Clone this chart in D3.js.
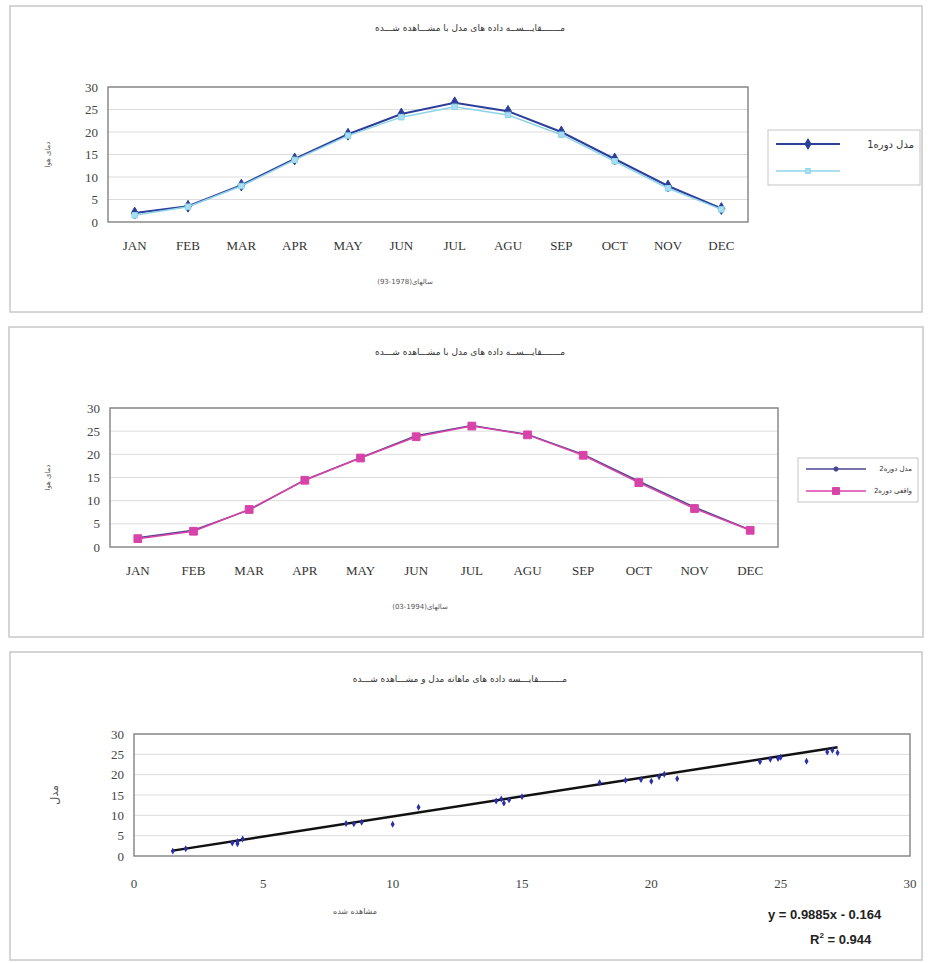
<!DOCTYPE html>
<html>
<head>
<meta charset="utf-8">
<script src="https://cdn.jsdelivr.net/npm/d3@7/dist/d3.min.js"></script>
<style>
  body { margin: 0; background: #fff; }
  text { font-family: "Liberation Serif", serif; }
  .fa { font-family: "DejaVu Sans", sans-serif; }
</style>
</head>
<body>
<div id="chart"></div>
<script>
"use strict";

// data
var months = ["JAN", "FEB", "MAR", "APR", "MAY", "JUN", "JUL", "AGU", "SEP", "OCT", "NOV", "DEC"];
var yTicks = [0, 5, 10, 15, 20, 25, 30];

var model1 = [2.0, 3.5, 8.2, 14.0, 19.5, 24.0, 26.5, 24.6, 20.0, 14.0, 8.0, 3.0];
var obs1   = [1.5, 3.4, 8.0, 13.8, 19.2, 23.3, 25.6, 23.8, 19.4, 13.5, 7.5, 2.8];

var model2 = [2.0, 3.6, 8.0, 14.5, 19.3, 24.0, 26.2, 24.3, 20.0, 14.2, 8.6, 3.7];
var obs2   = [1.8, 3.4, 8.1, 14.4, 19.2, 23.8, 26.1, 24.2, 19.8, 13.9, 8.3, 3.6];

var scatterObs   = [1.5, 2.0, 3.8, 4.0, 4.2, 4.0, 8.2, 8.5, 8.8, 10.0, 11.0, 14.0, 14.2, 14.3, 14.5, 15.0, 18.0, 19.0, 19.6, 20.0, 20.3, 20.5, 21.0, 24.2, 24.6, 24.9, 25.0, 26.0, 26.8, 27.0, 27.2];
var scatterModel = [1.2, 1.8, 3.2, 3.6, 4.2, 3.0, 8.0, 7.9, 8.3, 7.8, 12.0, 13.5, 14.0, 13.0, 13.8, 14.6, 18.0, 18.6, 18.8, 18.4, 19.5, 20.1, 19.0, 23.2, 23.8, 24.0, 24.3, 23.3, 25.6, 26.0, 25.4];
var scatterXTicks = [0, 5, 10, 15, 20, 25, 30];

var trendSlope = 0.9885;
var trendIntercept = -0.164;
var trendR2 = 0.944;

var W = 928, H = 963;
var svg = d3.select("#chart").append("svg").attr("width", W).attr("height", H);

// panel frames
[[10, 6, 912, 306], [9, 327, 914, 310], [10, 652, 912, 308]].forEach(function(p) {
  svg.append("rect")
    .attr("x", p[0]).attr("y", p[1]).attr("width", p[2]).attr("height", p[3])
    .attr("fill", "#fff").attr("stroke", "#c8c8c8").attr("stroke-width", 1.5);
});

function yGrid(g, y, x0, x1) {
  g.selectAll(".grid").data(yTicks.slice(1)).enter().append("line")
    .attr("x1", x0).attr("x2", x1)
    .attr("y1", function(d) { return y(d); }).attr("y2", function(d) { return y(d); })
    .attr("stroke", "#dcdcdc").attr("stroke-width", 1);
  g.selectAll(".ylab").data(yTicks).enter().append("text")
    .attr("x", x0 - 10).attr("y", function(d) { return y(d); })
    .attr("dy", "0.35em").attr("text-anchor", "end")
    .attr("font-size", 13).attr("fill", "#444")
    .text(function(d) { return d; });
}

function lineChart(o) {
  var g = svg.append("g");
  var x = d3.scaleBand().domain(months).range([o.left, o.right]);
  var y = d3.scaleLinear().domain([0, 30]).range([o.bottom, o.top]);

  yGrid(g, y, o.left, o.right);
  g.append("rect").attr("x", o.left).attr("y", o.top)
    .attr("width", o.right - o.left).attr("height", o.bottom - o.top)
    .attr("fill", "none").attr("stroke", "#8a8a8a").attr("stroke-width", 1.5);

  g.selectAll(".xlab").data(months).enter().append("text")
    .attr("x", function(d) { return x(d) + x.bandwidth() / 2; })
    .attr("y", o.bottom + 28).attr("text-anchor", "middle")
    .attr("font-size", 13).attr("fill", "#333")
    .text(function(d) { return d; });

  var line = d3.line()
    .x(function(d, i) { return x(months[i]) + x.bandwidth() / 2; })
    .y(function(d) { return y(d); });

  o.series.forEach(function(s) {
    g.append("path").datum(s.values)
      .attr("d", line).attr("fill", "none")
      .attr("stroke", s.color).attr("stroke-width", s.width);
    g.selectAll(null).data(s.values).enter().append("path")
      .attr("transform", function(d, i) {
        return "translate(" + (x(months[i]) + x.bandwidth() / 2) + "," + y(d) + ")";
      })
      .attr("d", d3.symbol().type(s.symbol).size(s.size))
      .attr("fill", s.fill).attr("stroke", s.color).attr("stroke-width", s.symStroke);
  });

  // title and axis titles
  g.append("text").attr("class", "fa").attr("x", o.titleX).attr("y", o.titleY)
    .attr("text-anchor", "middle").attr("font-size", 9).attr("fill", "#333")
    .attr("direction", "rtl").text(o.title);
  g.append("text").attr("class", "fa")
    .attr("transform", "translate(" + o.yLabX + "," + ((o.top + o.bottom) / 2) + ") rotate(-90)")
    .attr("text-anchor", "middle").attr("font-size", 7).attr("fill", "#555")
    .text(o.yLabel);
  g.append("text").attr("class", "fa").attr("x", o.xLabX).attr("y", o.bottom + 62)
    .attr("text-anchor", "middle").attr("font-size", 7).attr("fill", "#555")
    .text(o.xLabel);

  // legend
  var lg = o.legend;
  g.append("rect").attr("x", lg.x).attr("y", lg.y).attr("width", lg.w).attr("height", lg.h)
    .attr("fill", "#fff").attr("stroke", "#cfcfcf").attr("stroke-width", 1.2);
  o.series.forEach(function(s, i) {
    var ly = lg.y + lg.row0 + i * lg.rowStep;
    g.append("line").attr("x1", lg.x + 8).attr("x2", lg.x + 8 + lg.lineW)
      .attr("y1", ly).attr("y2", ly)
      .attr("stroke", s.color).attr("stroke-width", s.width);
    g.append("path").attr("transform", "translate(" + (lg.x + 8 + lg.lineW / 2) + "," + ly + ")")
      .attr("d", d3.symbol().type(s.symbol).size(s.size * 0.8))
      .attr("fill", s.fill).attr("stroke", s.color).attr("stroke-width", s.symStroke);
    // rtl text: "start" anchors at the right end
    g.append("text").attr("class", "fa")
      .attr("x", lg.x + lg.w - 6).attr("y", ly).attr("dy", "0.35em")
      .attr("text-anchor", "start").attr("direction", "rtl")
      .attr("font-size", lg.font).attr("fill", "#333").text(s.name);
  });
}

lineChart({
  left: 108, right: 748, top: 87, bottom: 222,
  title: "مـــــــقایـــســه داده های مدل با مشـــاهده شـــده", titleX: 470, titleY: 31,
  yLabel: "دمای هوا", yLabX: 50,
  xLabel: "سالهای(1978-93)", xLabX: 405,
  legend: { x: 768, y: 130, w: 152, h: 55, row0: 14, rowStep: 27, lineW: 64, font: 10 },
  series: [
    { name: "مدل دوره1", values: model1, color: "#2c3f9a", fill: "#2c3f9a", width: 2, symbol: d3.symbolDiamond, size: 40, symStroke: 1 },
    { name: "", values: obs1, color: "#8fd3e8", fill: "#a9dff0", width: 1.5, symbol: d3.symbolSquare, size: 30, symStroke: 1 }
  ]
});

lineChart({
  left: 110, right: 778, top: 408, bottom: 547,
  title: "مـــــــقایـــســه داده های مدل با مشـــاهده شـــده", titleX: 470, titleY: 355,
  yLabel: "دمای هوا", yLabX: 50,
  xLabel: "سالهای(1994-03)", xLabX: 420,
  legend: { x: 798, y: 458, w: 120, h: 44, row0: 11, rowStep: 22, lineW: 60, font: 7 },
  series: [
    { name: "مدل دوره2", values: model2, color: "#4a4590", fill: "#4a4590", width: 1.5, symbol: d3.symbolCircle, size: 18, symStroke: 1 },
    { name: "واقعی دوره2", values: obs2, color: "#d843a8", fill: "#d843a8", width: 1.5, symbol: d3.symbolSquare, size: 60, symStroke: 1 }
  ]
});

// scatter chart
(function() {
  var g = svg.append("g");
  var left = 134, right = 910, top = 734, bottom = 856;
  var x = d3.scaleLinear().domain([0, 30]).range([left, right]);
  var y = d3.scaleLinear().domain([0, 30]).range([bottom, top]);

  yGrid(g, y, left, right);
  g.append("rect").attr("x", left).attr("y", top)
    .attr("width", right - left).attr("height", bottom - top)
    .attr("fill", "none").attr("stroke", "#8a8a8a").attr("stroke-width", 1.5);

  g.selectAll(".xlab").data(scatterXTicks).enter().append("text")
    .attr("x", function(d) { return x(d); }).attr("y", bottom + 32)
    .attr("text-anchor", "middle").attr("font-size", 13).attr("fill", "#444")
    .text(function(d) { return d; });

  var xs = d3.extent(scatterObs);
  g.append("line")
    .attr("x1", x(xs[0])).attr("y1", y(trendSlope * xs[0] + trendIntercept))
    .attr("x2", x(xs[1])).attr("y2", y(trendSlope * xs[1] + trendIntercept))
    .attr("stroke", "#111").attr("stroke-width", 2.5);

  g.selectAll(".pt").data(scatterObs).enter().append("path")
    .attr("transform", function(d, i) { return "translate(" + x(d) + "," + y(scatterModel[i]) + ")"; })
    .attr("d", d3.symbol().type(d3.symbolDiamond).size(14))
    .attr("fill", "#2b2fa8");

  g.append("text").attr("class", "fa").attr("x", 460).attr("y", 682)
    .attr("text-anchor", "middle").attr("font-size", 9).attr("fill", "#333")
    .attr("direction", "rtl").text("مـــــــــقایـــسه داده های ماهانه مدل و مشـــاهده شـــده");
  g.append("text").attr("class", "fa")
    .attr("transform", "translate(58," + ((top + bottom) / 2) + ") rotate(-90)")
    .attr("text-anchor", "middle").attr("font-size", 11).attr("fill", "#555")
    .text("مدل");
  g.append("text").attr("class", "fa").attr("x", 355).attr("y", 914)
    .attr("text-anchor", "middle").attr("font-size", 8).attr("fill", "#555")
    .text("مشاهده شده");

  g.append("text").attr("x", 768).attr("y", 919)
    .style("font-family", "'Liberation Sans', Arial, sans-serif")
    .attr("font-size", 13).attr("font-weight", "bold").attr("fill", "#222")
    .text("y = " + trendSlope + "x - " + Math.abs(trendIntercept));
  var r = g.append("text").attr("x", 810).attr("y", 944)
    .style("font-family", "'Liberation Sans', Arial, sans-serif")
    .attr("font-size", 13).attr("font-weight", "bold").attr("fill", "#222");
  r.append("tspan").text("R");
  r.append("tspan").attr("font-size", 8).attr("dy", -6).text("2");
  r.append("tspan").attr("dy", 6).text(" = " + trendR2);
})();
</script>
</body>
</html>
